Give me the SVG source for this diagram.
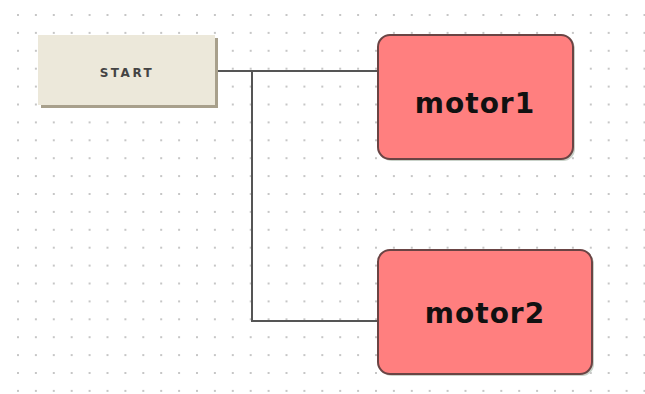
<svg xmlns="http://www.w3.org/2000/svg" width="645" height="394" viewBox="0 0 645 394">
<defs>
<pattern id="grid" x="17" y="14" width="17.9" height="17.9" patternUnits="userSpaceOnUse">
<rect x="0" y="0" width="2" height="2" fill="#c6c6c6"/>
</pattern>
</defs>
<style>
.conn{fill:none;stroke:#555;stroke-width:2}
.motor{fill:#ff7f7f;stroke:#6a4444;stroke-width:2}
.mshadow{fill:#c9d2c9}
.mlabel{font-family:"DejaVu Sans",Arial,sans-serif;font-weight:bold;font-size:28px;letter-spacing:1px;fill:#111;text-anchor:middle}
.slabel{font-family:"DejaVu Sans",Arial,sans-serif;font-weight:bold;font-size:12px;letter-spacing:2.5px;fill:#444;text-anchor:middle}
</style>
<rect x="0" y="0" width="645" height="394" fill="#ffffff"/>
<rect x="10" y="8" width="635" height="386" fill="url(#grid)"/>
<g id="connectors">
<path class="conn" d="M218 71 H378"/>
<path class="conn" d="M252 71 V321 H378"/>
</g>
<g id="start">
<rect x="41" y="38" width="177" height="70" fill="#a8a08c"/>
<rect x="38" y="35" width="177" height="70" fill="#ece8da"/>
<text class="slabel" x="127" y="77">START</text>
</g>
<g id="motor1">
<rect class="mshadow" x="380" y="37" width="195" height="124" rx="12"/>
<rect class="motor" x="378" y="35" width="195" height="124" rx="12"/>
<text class="mlabel" x="475" y="113">motor1</text>
</g>
<g id="motor2">
<rect class="mshadow" x="380" y="252" width="214" height="124" rx="12"/>
<rect class="motor" x="378" y="250" width="214" height="124" rx="12"/>
<text class="mlabel" x="485" y="323">motor2</text>
</g>
</svg>
